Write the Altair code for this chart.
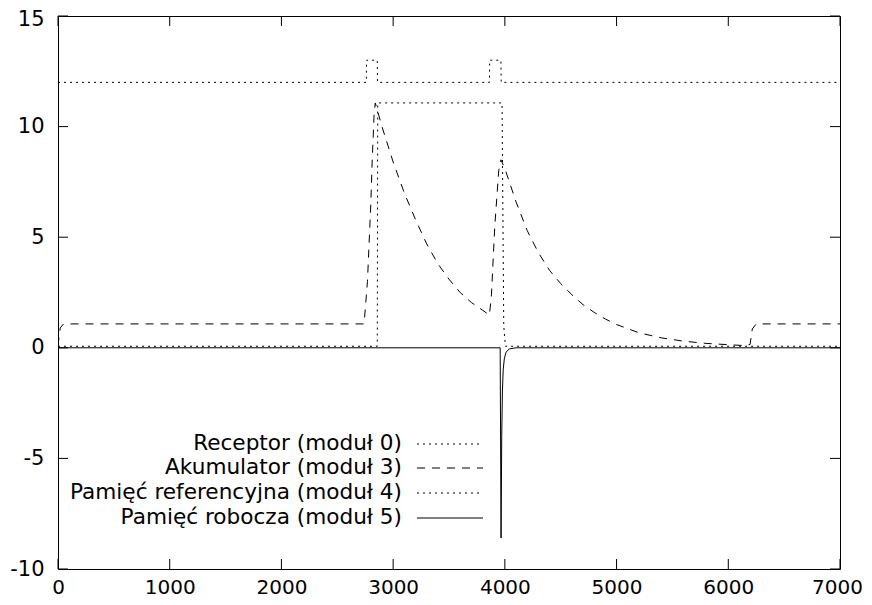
import altair as alt
import pandas as pd

# ---- data ----
rec_t = [0, 2760, 2762, 2858, 2860, 3862, 3864, 3965, 3967, 7000]
rec_v = [12, 12, 13, 13, 12, 12, 13, 13, 12, 12]

aku_t = [0, 20, 50, 2740, 2770, 2800, 2812, 2830, 2840, 2900, 3000, 3100, 3200, 3300,
         3400, 3500, 3600, 3700, 3800, 3862, 3880, 3910, 3945, 3965, 4000, 4100, 4200,
         4300, 4400, 4500, 4600, 4700, 4800, 4900, 5000, 5200, 5400, 5600, 5800, 6000,
         6150, 6195, 6215, 6250, 7000]
aku_v = [0.1, 0.9, 1.08, 1.08, 3.0, 6.5, 8.4, 10.6, 11.07, 10.0, 8.4, 7.0, 5.8, 4.7,
         3.8, 3.1, 2.5, 2.05, 1.7, 1.48, 2.4, 5.5, 8.0, 8.5, 8.1, 6.6, 5.3,
         4.3, 3.5, 2.9, 2.4, 1.95, 1.6, 1.3, 1.05, 0.68, 0.45, 0.3, 0.2, 0.14,
         0.1, 0.15, 0.85, 1.08, 1.08]

ref_t = [0, 2858, 2862, 3975, 3990, 4005, 7000]
ref_v = [0.07, 0.07, 11.07, 11.07, 1.0, 0.07, 0.07]

rob_t = [0, 3958, 3966, 3972, 3978, 3985, 3995, 4010, 4040, 4100, 7000]
rob_v = [0, 0, -8.6, -4.0, -2.0, -1.0, -0.5, -0.2, -0.05, 0, 0]

names = ["Receptor (moduł 0)", "Akumulator (moduł 3)",
         "Pamięć referencyjna (moduł 4)", "Pamięć robocza (moduł 5)"]
dashes = [[2, 4], [8, 7], [2, 4], [1, 0]]

x_ticks = [0, 1000, 2000, 3000, 4000, 5000, 6000, 7000]
y_ticks = [-10, -5, 0, 5, 10, 15]

W, H = 782, 553
FONT = "DejaVu Sans"

xscale = alt.Scale(domain=[0, 7000], nice=False, zero=False)
yscale = alt.Scale(domain=[-10, 15], nice=False, zero=False)

x_axis = alt.Axis(values=x_ticks, tickSize=0, domain=False, grid=False, labelFontSize=20,
                  labelFont=FONT, labelColor="black", labelPadding=8, title=None,
                  labelFlush=False, labelExpr="'' + datum.value",
                  labelOffset={"condition": {"test": "datum.value === 7000", "value": -3},
                               "value": 0})
y_axis = alt.Axis(values=y_ticks, tickSize=0, domain=False, grid=False, labelFontSize=21,
                  labelFont=FONT, labelColor="black", labelPadding=14, title=None,
                  labelExpr="'' + datum.value",
                  labelOffset={"condition": {"test": "datum.value === 15", "value": 3},
                               "value": 0})

X = alt.X("t:Q", scale=xscale, axis=x_axis)
Y = alt.Y("v:Q", scale=yscale, axis=y_axis)

series = [(rec_t, rec_v), (aku_t, aku_v), (ref_t, ref_v), (rob_t, rob_v)]
layers = []
for (t, v), dash in zip(series, dashes):
    df = pd.DataFrame({"t": t, "v": v, "i": list(range(len(t)))})
    kw = dict(color="black", strokeWidth=1, clip=True)
    if dash[1] != 0:
        kw["strokeDash"] = dash
    layers.append(
        alt.Chart(df).mark_line(**kw).encode(x=X, y=Y, order=alt.Order("i:Q"))
    )

# mirrored inward ticks
xt = pd.DataFrame({"t": x_ticks})
yt = pd.DataFrame({"v": y_ticks})
for y0, y1 in [(H, H - 10), (0, 10)]:
    layers.append(alt.Chart(xt).mark_rule(color="black", strokeWidth=1).encode(
        x=X, y=alt.value(y0), y2=alt.value(y1)))
for x0, x1 in [(0, 10), (W, W - 10)]:
    layers.append(alt.Chart(yt).mark_rule(color="black", strokeWidth=1).encode(
        y=Y, x=alt.value(x0), x2=alt.value(x1)))

# legend (gnuplot style: label on the left, sample on the right)
one = pd.DataFrame({"a": [0]})
ys = [428, 452, 477, 502]
for name, dash, yy in zip(names, dashes, ys):
    layers.append(alt.Chart(one).mark_text(align="right", baseline="middle", fontSize=21.6,
                                           font=FONT, color="black").encode(
        x=alt.value(344), y=alt.value(yy), text=alt.value(name)))
    kw = dict(color="black", strokeWidth=1)
    if dash[1] != 0:
        kw["strokeDash"] = dash
    layers.append(alt.Chart(one).mark_rule(**kw).encode(
        x=alt.value(359), x2=alt.value(425), y=alt.value(yy)))

chart = alt.layer(*layers).properties(
    width=W, height=H,
    autosize=alt.AutoSizeParams(type="none"),
    padding={"left": 50, "top": 8, "right": 24, "bottom": 28},
    background="white",
).configure_view(stroke="black", strokeWidth=1)

chart.save("out.html", embed_options={"renderer": "svg", "actions": False})
